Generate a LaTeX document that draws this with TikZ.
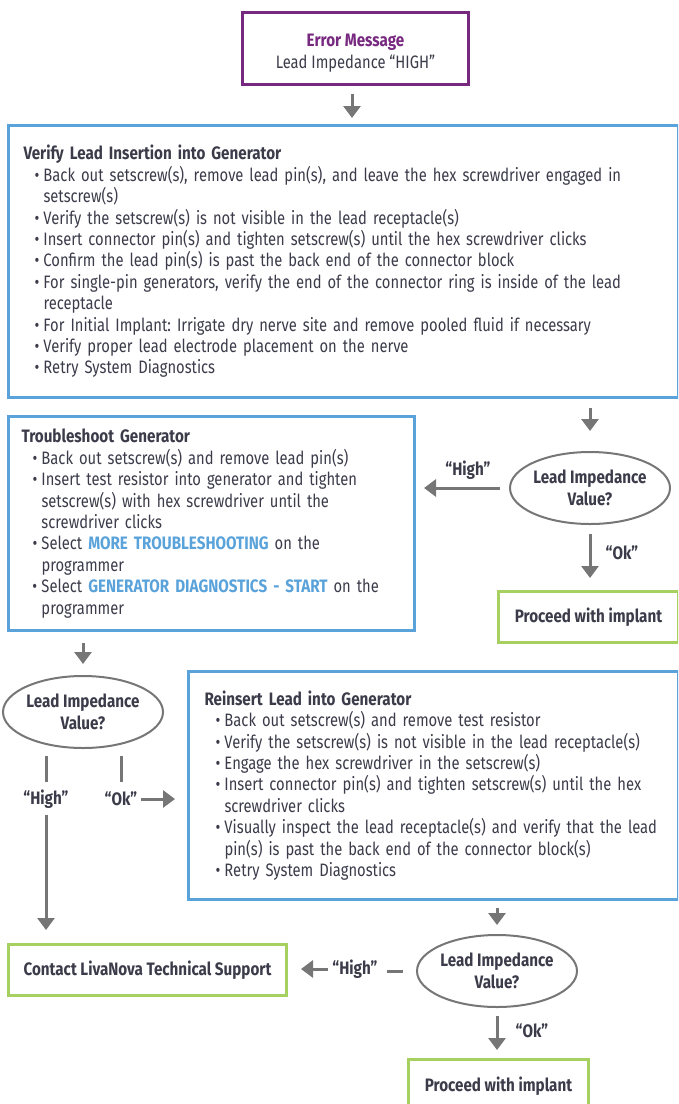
\documentclass[tikz,border=0pt]{standalone}
\usepackage{fontspec}
\setmainfont[FakeStretch=0.82, BoldFeatures={FakeStretch=0.845}]{Fira Sans}
\usepackage{xcolor}
\usepackage{tikz}
\usetikzlibrary{arrows.meta, positioning, calc, shapes.geometric}

\definecolor{lnblue}{HTML}{5AA2DA}
\definecolor{lngreen}{HTML}{A6D160}
\definecolor{lnpurple}{HTML}{77287F}
\definecolor{lntext}{HTML}{3B3B4A}
\definecolor{lngray}{HTML}{767676}

\frenchspacing
\newcommand{\bitem}[1]{\par\hangindent=20pt\hangafter=1\hspace*{11pt}\makebox[9pt][l]{\textbullet}#1}
\newcommand{\hl}[1]{\textcolor{lnblue}{\textbf{#1}}}

\begin{document}
\begin{tikzpicture}[x=1pt, y=-1pt,
    every node/.style={text=lntext, font=\fontsize{18}{21.4}\selectfont},
    bluebox/.style={draw=lnblue, line width=3pt, align=left, anchor=north west, inner ysep=0pt},
    greenbox/.style={draw=lngreen, line width=3pt, anchor=north west, font=\fontsize{18}{21.4}\selectfont\bfseries},
    decision/.style={draw=lngray, ellipse, line width=2pt, minimum width=156pt, minimum height=72pt,
        inner sep=0pt, align=center, font=\fontsize{18}{21.4}\selectfont\bfseries},
    lbl/.style={inner sep=2pt, font=\fontsize{18}{21.4}\selectfont\bfseries},
    arr/.style={draw=lngray, line width=3pt, -{Triangle[width=17pt,length=12pt]}},
    stub/.style={draw=lngray, line width=3pt}]
    \useasboundingbox (0,0) rectangle (678,1104);
    \clip (0,0) rectangle (678,1104);

    % error message
    \node[draw=lnpurple, line width=3pt, anchor=north west, minimum width=226pt, minimum height=72pt, align=center] (err) at (241,11)
        {\rule{0pt}{22pt}\textcolor{lnpurple}{\textbf{Error Message}}\\Lead Impedance “HIGH”};

    % steps
    \node[bluebox, text width=640pt, inner xsep=15pt, minimum height=272pt] (vli) at (7,124) {%
        \textbf{Verify Lead Insertion into Generator}
        \bitem{Back out setscrew(s), remove lead pin(s), and leave the hex screwdriver engaged in\newline setscrew(s)}
        \bitem{Verify the setscrew(s) is not visible in the lead receptacle(s)}
        \bitem{Insert connector pin(s) and tighten setscrew(s) until the hex screwdriver clicks}
        \bitem{Confirm the lead pin(s) is past the back end of the connector block}
        \bitem{For single-pin generators, verify the end of the connector ring is inside of the lead\newline receptacle}
        \bitem{For Initial Implant: Irrigate dry nerve site and remove pooled fluid if necessary}
        \bitem{Verify proper lead electrode placement on the nerve}
        \bitem{Retry System Diagnostics}\par};

    \node[bluebox, text width=380pt, inner xsep=13pt, minimum height=214pt] (tsg) at (7,415) {%
        \textbf{Troubleshoot Generator}
        \bitem{Back out setscrew(s) and remove lead pin(s)}
        \bitem{Insert test resistor into generator and tighten\newline setscrew(s) with hex screwdriver until the\newline screwdriver clicks}
        \bitem{Select \hl{MORE TROUBLESHOOTING} on the\newline programmer}
        \bitem{Select \hl{GENERATOR DIAGNOSTICS - START} on the\newline programmer}\par};

    \node[bluebox, text width=458pt, inner xsep=16pt, minimum height=228pt] (rlg) at (187,670) {%
        \textbf{Reinsert Lead into Generator}
        \bitem{Back out setscrew(s) and remove test resistor}
        \bitem{Verify the setscrew(s) is not visible in the lead receptacle(s)}
        \bitem{Engage the hex screwdriver in the setscrew(s)}
        \bitem{Insert connector pin(s) and tighten setscrew(s) until the hex\newline screwdriver clicks}
        \bitem{Visually inspect the lead receptacle(s) and verify that the lead\newline pin(s) is past the back end of the connector block(s)}
        \bitem{Retry System Diagnostics}\par};

    % decisions
    \node[decision] (lv1) at (590,488) {Lead Impedance\\Value?};
    \node[decision] (lv2) at (83,712) {Lead Impedance\\Value?};
    \node[decision] (lv3) at (497,971) {Lead Impedance\\Value?};

    % ends
    \node[greenbox, minimum width=180pt, minimum height=51pt] (pw1) at (497,590) {Proceed with implant};
    \node[greenbox, minimum width=278pt, minimum height=51pt] (cts) at (7,943) {Contact LivaNova Technical Support};
    \node[greenbox, minimum width=180pt, minimum height=54pt] (pw2) at (407,1058) {Proceed with implant};

    % labels
    \node[lbl] (hi1) at (468,470) {“High”};
    \node[lbl] (ok1) at (622,553) {“Ok”};
    \node[lbl] (hi2) at (46,799) {“High”};
    \node[lbl] (ok2) at (121,799) {“Ok”};
    \node[lbl] (hi3) at (355,969) {“High”};
    \node[lbl] (ok3) at (532,1031) {“Ok”};

    % connectors
    \draw[arr, shorten <=8pt, shorten >=6pt] (err.south -| 352,0) -- (vli.north -| 352,0);
    \draw[arr, shorten <=9pt, shorten >=20pt] (vli.south -| lv1) -- (lv1.north);
    \draw[arr, shorten <=9pt, shorten >=8pt] (lv1.west) -- (tsg.east |- lv1.west);
    \draw[arr, shorten <=9pt, shorten >=12pt] (lv1.south) -- (pw1.north -| lv1);
    \draw[arr, shorten <=11pt, shorten >=11pt] (tsg.south -| lv2) -- (lv2.north);
    \draw[stub] ($(hi2 |- lv2.south)+(0,7)$) -- ++(0,26);
    \draw[stub] ($(ok2 |- lv2.south)+(0,7)$) -- ++(0,26);
    \draw[arr, shorten <=4pt, shorten >=13pt] (hi2.south) -- (hi2 |- cts.north);
    \draw[arr, shorten <=2pt, shorten >=12pt] (ok2.east) -- (rlg.west |- ok2);
    \draw[arr, shorten <=7pt, shorten >=9pt] (rlg.south -| lv3) -- (lv3.north);
    \draw[stub] ($(lv3.west)+(-13,0)$) -- ++(-16,0);
    \draw[arr, shorten <=2pt, shorten >=13pt] (hi3.west) -- (cts.east |- hi3);
    \draw[arr, shorten <=8pt, shorten >=8pt] (lv3.south) -- (pw2.north -| lv3);
\end{tikzpicture}
\end{document}
